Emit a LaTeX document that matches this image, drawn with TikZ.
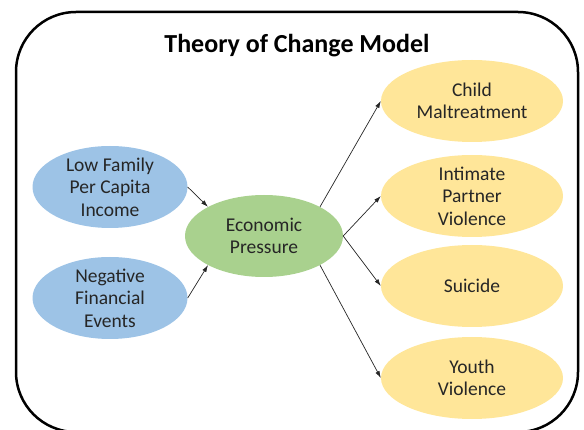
\documentclass[tikz,border=0pt]{standalone}
\usepackage{fontspec}
\setmainfont{Carlito}
\usetikzlibrary{shapes.geometric,arrows.meta}
\definecolor{causeblue}{HTML}{9DC3E6}
\definecolor{pressuregreen}{HTML}{A9D18E}
\definecolor{outcomeyellow}{HTML}{FFE699}
\definecolor{textgray}{HTML}{262626}

\begin{document}
\begin{tikzpicture}[x=1pt, y=-1pt,
        oval/.style={ellipse, inner sep=-20pt, minimum height=82pt, text=textgray,
            align=center, font=\fontsize{19.5}{22.5}\selectfont},
        cause/.style={oval, fill=causeblue, minimum width=155pt},
        pressure/.style={oval, fill=pressuregreen, minimum width=158pt},
        outcome/.style={oval, fill=outcomeyellow, minimum width=182pt},
        link/.style={-{Latex[length=7pt,width=4.5pt]}, line width=0.7pt, draw=black!85}]
        \useasboundingbox (0,0) rectangle (584,430);
        \clip (0,0) rectangle (584,430);
        \draw[line width=2.5pt, rounded corners=60pt] (16,12) rectangle (578,432);

        \node[font=\bfseries\fontsize{26}{30}\selectfont, anchor=base] (title) at (297,52.7) {Theory of Change Model};

        \node[cause] (income) at (110,187) {Low Family\\Per Capita\\Income};
        \node[cause] (events) at (110,298) {Negative\\Financial\\Events};
        \node[pressure] (pressure) at (264,236) {Economic\\Pressure};

        \node[outcome] (maltreat) at (472,101) {Child\\Maltreatment};
        \node[outcome] (partner) at (472,196) {Intimate\\Partner\\Violence};
        \node[outcome] (suicide) at (472,286) {Suicide};
        \node[outcome] (youth) at (472,378) {Youth\\Violence};

        \draw[link] (income.east) -- (pressure.north west);
        \draw[link] (events.east) -- (pressure.south west);
        \draw[link] (pressure.north east) -- (maltreat.west);
        \draw[link] (pressure.east) -- (partner.west);
        \draw[link] (pressure.east) -- (suicide.west);
        \draw[link] (pressure.south east) -- (youth.west);
    \end{tikzpicture}
\end{document}
